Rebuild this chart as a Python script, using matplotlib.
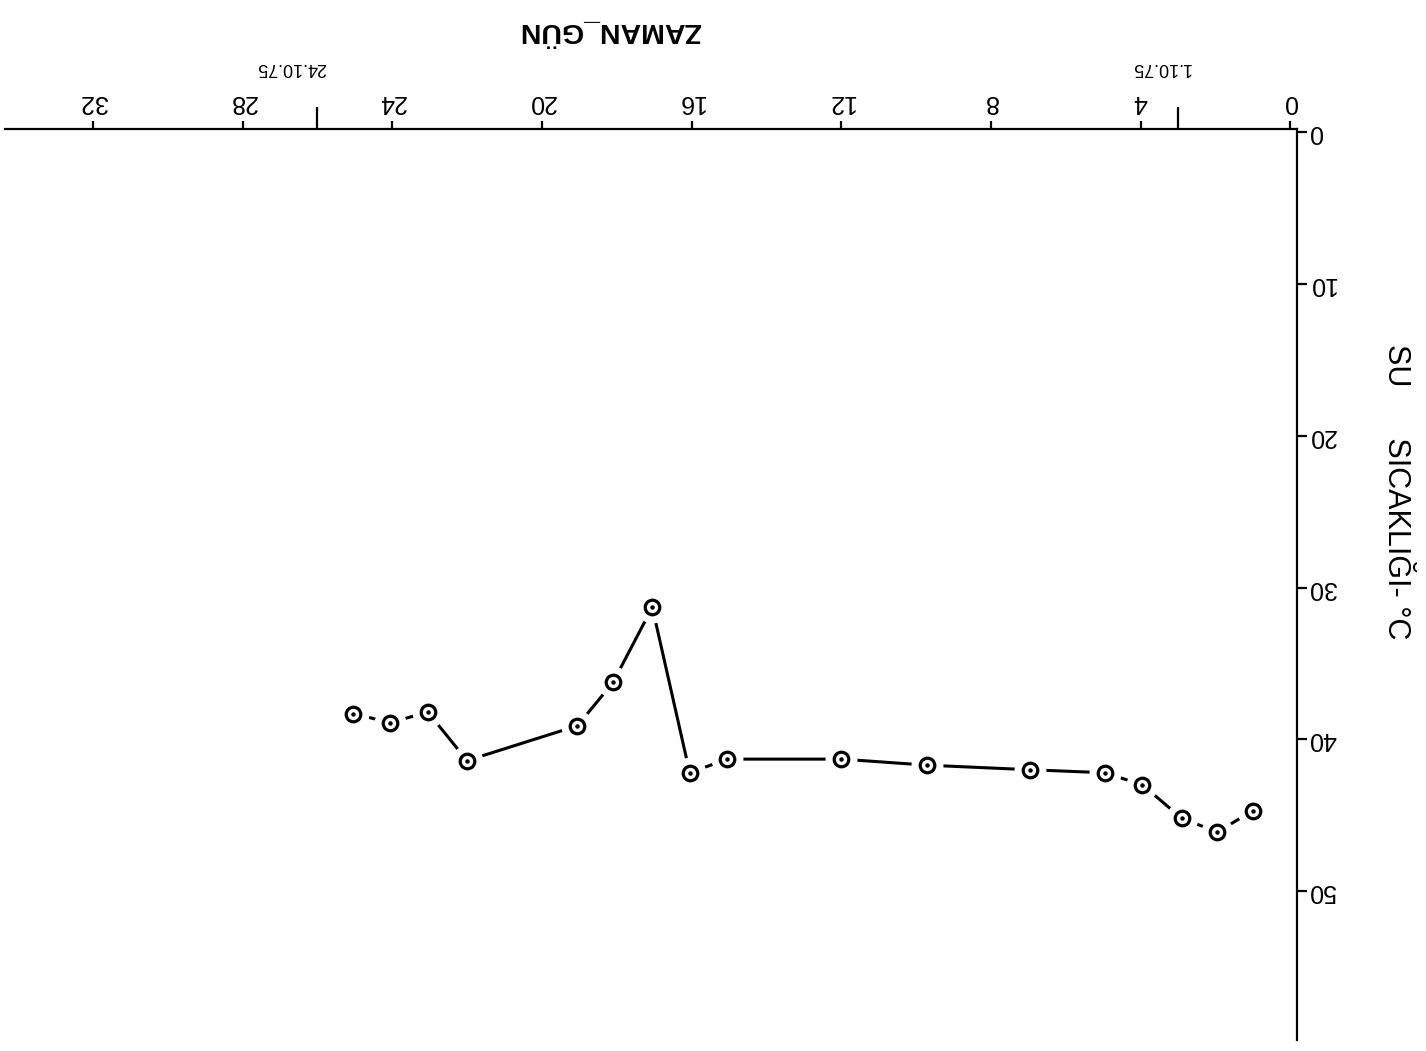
import matplotlib
matplotlib.use("Agg")
import matplotlib.pyplot as plt
import matplotlib.transforms as mtransforms

# Water temperature over time (days)
days = [1.0, 1.95, 2.9, 3.95, 4.95, 6.95, 9.7, 12.0, 15.05, 16.05, 17.05, 18.1, 19.05, 22.0, 23.05, 24.05, 25.05]
temps = [44.7, 46.1, 45.2, 43.0, 42.2, 42.0, 41.7, 41.3, 41.3, 42.2, 31.3, 36.25, 39.1, 41.4, 38.2, 38.9, 38.3]

x_ticks = [0, 4, 8, 12, 16, 20, 24, 28, 32]
y_ticks = [0, 10, 20, 30, 40, 50]
date_days = [3, 26]
date_labels = ["1.10.75", "24.10.75"]

plt.rcParams['font.family'] = ['Liberation Sans', 'DejaVu Sans']

fig = plt.figure(figsize=(14.26, 10.51), dpi=100)
ax = fig.add_axes([5 / 1426, 1 - 1040 / 1051, (1297 - 5) / 1426, (1040 - 129) / 1051])

ax.set_xlim(34.35, -0.18)
ax.set_ylim(59.8, -0.2)

for s in ['left', 'bottom']:
    ax.spines[s].set_visible(False)
for s in ['top', 'right']:
    ax.spines[s].set_linewidth(1.6)

ax.xaxis.tick_top()
ax.yaxis.tick_right()
ax.set_xticks(x_ticks)
ax.set_xticklabels([str(v) for v in x_ticks], rotation=180, fontsize=18)
ax.set_yticks(y_ticks)
ax.set_yticklabels([str(v) for v in y_ticks], rotation=180, fontsize=18, va='center')
ax.tick_params(axis='x', direction='out', length=6, width=1.6, pad=5)
ax.tick_params(axis='y', direction='out', length=7, width=1.6, pad=1)

# date marker ticks along the time axis
ax.set_xticks(date_days, minor=True)
ax.tick_params(axis='x', which='minor', direction='out', length=16, width=1.6, labeltop=False)
trans = mtransforms.blended_transform_factory(ax.transData, ax.transAxes)
for d, lab in zip(date_days, date_labels):
    ax.text(d + (0.45 if d < 10 else 0.7), 1.067, lab, transform=trans, rotation=180,
            ha='center', va='center', fontsize=13)

# connecting line, white halos leave gaps around the points
ax.plot(days, temps, color='black', lw=2.2, zorder=2, solid_capstyle='butt')
ax.plot(days, temps, linestyle='none', marker='o', ms=22, mfc='white', mec='white', zorder=3)
ax.plot(days, temps, linestyle='none', marker='o', ms=10.5, mfc='white', mec='black', mew=2.3, zorder=4)
ax.plot(days, temps, linestyle='none', marker='o', ms=2.2, mfc='black', mec='black', zorder=5)

fig.text(610 / 1426, 1 - 31 / 1051, 'ZAMAN_GÜN', rotation=180, ha='center', va='center',
         fontsize=20.5, fontweight='bold')
fig.text(1396 / 1426, 1 - 492 / 1051, 'SU      SICAKLIĞI- °C', rotation=-90, ha='center', va='center',
         fontsize=22)

fig.savefig('out.png', dpi=100, facecolor='white')
